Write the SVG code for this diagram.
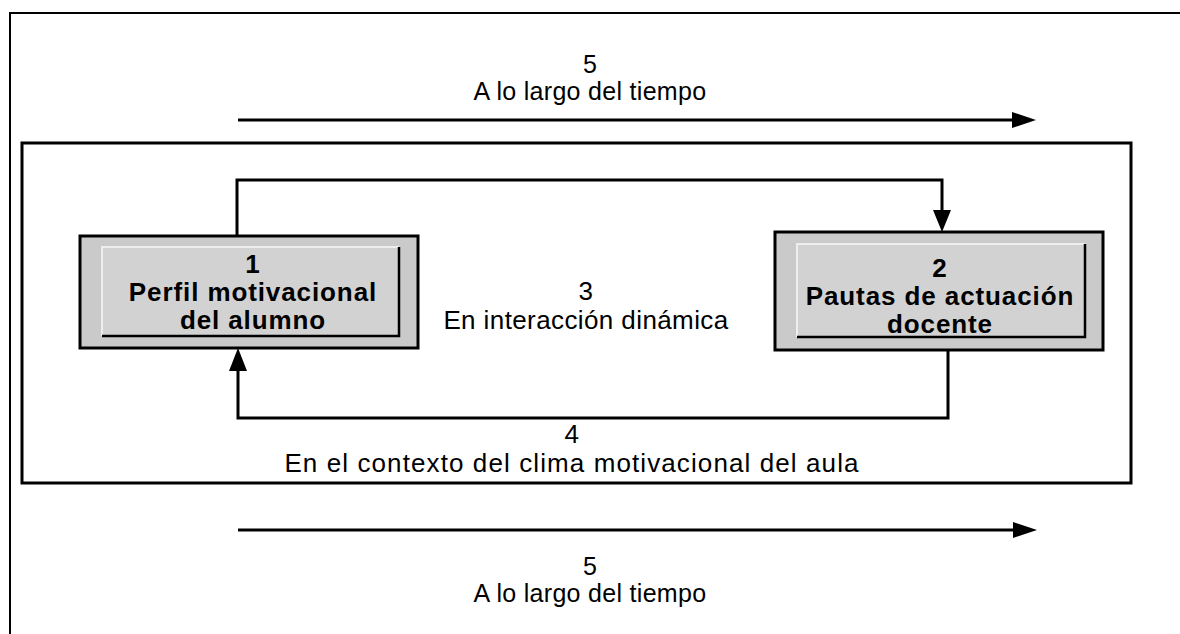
<svg xmlns="http://www.w3.org/2000/svg" width="1180" height="634" viewBox="0 0 1180 634">
  <style>
    .frame { fill: none; stroke: #000; stroke-width: 2; }
    .inner { fill: none; stroke: #000; stroke-width: 3; }
    .line { fill: none; stroke: #000; stroke-width: 3; }
    .head { fill: #000; stroke: none; }
    .nodebox { fill: #cacaca; stroke: #000; stroke-width: 3; }
    .panel { fill: #d2d2d2; stroke: none; }
    .hl { fill: none; stroke: #eeeeee; stroke-width: 2; }
    .sh { fill: none; stroke: #000; stroke-width: 2.5; }
    .lbl { font-family: "Liberation Sans", Arial, sans-serif; font-size: 25px; fill: #000; text-anchor: middle; letter-spacing: 0.3px; }
    .mid { font-size: 26px; letter-spacing: 0.4px; }
    .ntxt { font-family: "Liberation Sans", Arial, sans-serif; font-size: 26px; font-weight: bold; fill: #000; text-anchor: middle; letter-spacing: 0.9px; }
  </style>

  <g id="frame">
    <path class="frame" d="M10,634 V13 H1180"/>
    <rect class="inner" x="22" y="143" width="1109" height="340"/>
  </g>

  <g id="time-top">
    <text class="lbl" x="590" y="73">5</text>
    <text class="lbl" x="590" y="100">A lo largo del tiempo</text>
  </g>

  <g id="interaction">
    <text class="lbl mid" x="586" y="300">3</text>
    <text class="lbl mid" x="586" y="329">En interacción dinámica</text>
  </g>

  <g id="context">
    <text class="lbl mid" x="572" y="443">4</text>
    <text class="lbl mid" x="572" y="472" style="letter-spacing:1.1px">En el contexto del clima motivacional del aula</text>
  </g>

  <g id="time-bottom">
    <text class="lbl" x="590" y="575">5</text>
    <text class="lbl" x="590" y="602">A lo largo del tiempo</text>
  </g>

  <g id="node1">
    <rect class="nodebox" x="80" y="236" width="338" height="112"/>
    <rect class="panel" x="102" y="247" width="297" height="89"/>
    <path class="hl" d="M102,336 V247 H399"/>
    <path class="sh" d="M102,336 H399 V247"/>
    <text class="ntxt" x="253" y="273">1</text>
    <text class="ntxt" x="253" y="301">Perfil motivacional</text>
    <text class="ntxt" x="253" y="329">del alumno</text>
  </g>

  <g id="node2">
    <rect class="nodebox" x="775" y="232" width="328" height="118"/>
    <rect class="panel" x="797" y="244" width="288" height="93"/>
    <path class="hl" d="M797,337 V244 H1085"/>
    <path class="sh" d="M797,337 H1085 V244"/>
    <text class="ntxt" x="940" y="277">2</text>
    <text class="ntxt" x="940" y="305">Pautas de actuación</text>
    <text class="ntxt" x="940" y="333">docente</text>
  </g>

  <g id="connectors">
    <line class="line" x1="238" y1="120" x2="1015" y2="120"/>
    <polygon class="head" points="1012,112 1036,120 1012,128"/>
    <line class="line" x1="238" y1="530" x2="1016" y2="530"/>
    <polygon class="head" points="1013,522 1037,530 1013,538"/>
    <path class="line" d="M237,235 V180 H942 V212"/>
    <polygon class="head" points="933,210 951,210 942,232"/>
    <path class="line" d="M948,350 V418 H238 V370"/>
    <polygon class="head" points="229,371 247,371 238,348"/>
  </g>
</svg>
